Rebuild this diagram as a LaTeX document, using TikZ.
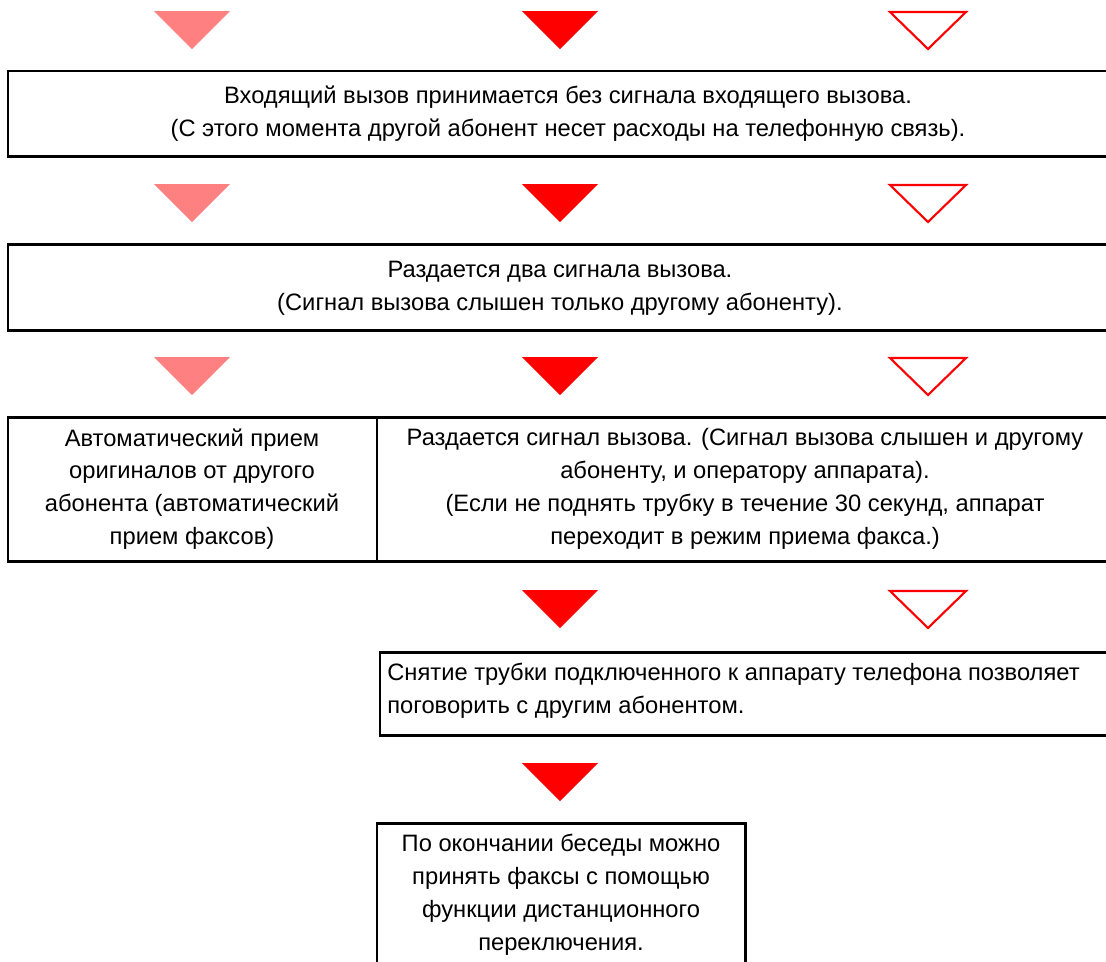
\documentclass[tikz,border=0pt]{standalone}
\usepackage{fontspec}
\setmainfont{Liberation Sans}
\usetikzlibrary{math}
\definecolor{tpink}{RGB}{255,128,128}
\definecolor{tred}{RGB}{255,0,0}

\begin{document}
\begin{tikzpicture}[x=0.02cm,y=-0.02cm,
  txt/.style={font=\fontsize{13.5}{18.7}\selectfont, align=center, inner sep=0pt},
  frame/.style={line width=1.7pt}]
\tikzmath{
\W=38;
\H=38;
\xa=192;
\xb=560;
\xc=928;
\R=1110;
}
\useasboundingbox (0,0) rectangle (1106,961);

%markers:
 \foreach \y in {11,184,357}{
  \fill[tpink] (\xa-\W,\y) -- (\xa+\W,\y) -- (\xa,\y+\H) -- cycle;
 }
 \foreach \y in {11,184,357,590,763}{
  \fill[tred] (\xb-\W,\y) -- (\xb+\W,\y) -- (\xb,\y+\H) -- cycle;
 }
 \foreach \y in {12,185,358,591}{
  \draw[tred, line width=1.2pt] (\xc-\W,\y) -- (\xc+\W,\y) -- (\xc,\y+\H-1) -- cycle;
 }

%frames:
 \draw[frame] (\R,71) -- (8,71) -- (8,156) -- (\R,156);
 \draw[frame] (\R,244) -- (8,244) -- (8,330) -- (\R,330);
 \draw[frame] (\R,417) -- (8,417) -- (8,561) -- (\R,561);
 \draw[frame] (377,417) -- (377,561);
 \draw[frame] (\R,652) -- (380,652) -- (380,735) -- (\R,735);
 \draw[frame] (377,965) -- (377,823) -- (745,823) -- (745,965);

%texts:
 \node[txt] (incoming) at (568,114) {Входящий вызов принимается без сигнала входящего вызова.\\(С этого момента другой абонент несет расходы на телефонную связь).};
 \node[txt] (tworings) at (560,288) {Раздается два сигнала вызова.\\(Сигнал вызова слышен только другому абоненту).};
 \node[txt] (autorx) at (192,489) {Автоматический прием\\оригиналов от другого\\абонента (автоматический\\прием факсов)};
 \node[txt] (ring) at (745,489) {Раздается сигнал вызова. (Сигнал вызова слышен и другому\\абоненту, и оператору аппарата).\\(Если не поднять трубку в течение 30 секунд, аппарат\\переходит в режим приема факса.)};
 \node[txt, align=left, anchor=west] (handset) at (387,691) {Снятие трубки подключенного к аппарату телефона позволяет\\поговорить с другим абонентом.};
 \node[txt] (remote) at (561,895) {По окончании беседы можно\\принять факсы с помощью\\функции дистанционного\\переключения.};
\end{tikzpicture}
\end{document}
